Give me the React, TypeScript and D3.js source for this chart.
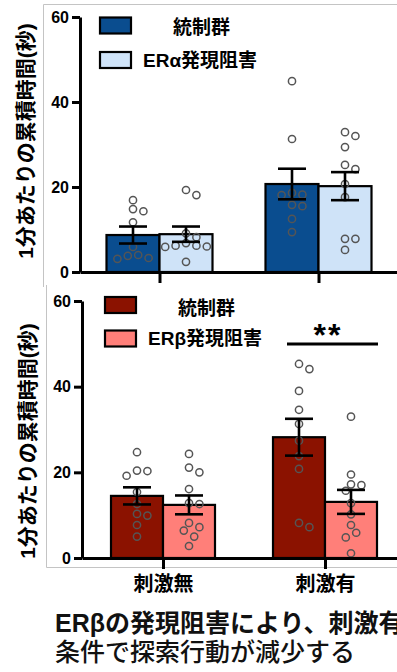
import * as d3 from 'd3';
import React, { useRef, useEffect } from 'react';

// categories and groups
const stimLabels = ["刺激無", "刺激有"];
const groupKeys = ["ctrl", "kd"];

// ERα panel (top) - bar means and SEM
const alphaMeans = [[8.7, 8.9], [20.7, 20.2]];
const alphaSem = [[2.0, 1.8], [3.6, 3.3]];
const alphaPoints = [
  [
    [14.8, 14.3, 16.9, 11.7, 5.9, 3.8, 3.1, 3.3, 4.0],
    [19.3, 18.1, 8.2, 9.1, 5.9, 6.2, 6.0, 6.2, 6.8, 2.4],
  ],
  [
    [44.9, 31.3, 18.1, 18.2, 18.6, 15.5, 15.8, 12.5, 9.4],
    [32.9, 32.0, 29.4, 25.2, 24.2, 20.7, 17.6, 7.8, 7.8, 5.2],
  ],
];

// ERβ panel (bottom)
const betaMeans = [[14.5, 12.4], [28.2, 13.1]];
const betaSem = [[2.0, 2.2], [4.3, 2.8]];
const betaPoints = [
  [
    [24.7, 20.3, 19.2, 20.4, 15.4, 12.6, 10.3, 9.9, 7.7, 5.0],
    [24.3, 21.1, 20.0, 16.1, 12.6, 12.8, 7.2, 8.2, 6.4, 5.0, 2.8],
  ],
  [
    [45.3, 44.1, 39.0, 34.6, 31.3, 27.4, 23.8, 20.8, 7.2, 8.2],
    [33.0, 19.5, 17.0, 17.2, 15.7, 12.8, 10.2, 7.7, 5.9, 4.8, 1.1],
  ],
];

const yTicks = [0, 20, 40, 60];
const yLabel = "1分あたりの累積時間(秒)";
const captionLines = ["ERβの発現阻害により、刺激有", "条件で探索行動が減少する"];

const latin = "'Liberation Sans', Arial, 'Noto Sans CJK JP', sans-serif";
const cjk = "'Liberation Sans', 'Noto Sans CJK JP', sans-serif";

// simple swarm so circles don't sit on top of each other
function swarm(values: number[], y: (v: number) => number, minDist: number, step: number) {
  const order = values.map((v, i) => i).sort((a, b) => values[b] - values[a]);
  const placed: { x: number, y: number }[] = [];
  const out: { v: number, dx: number }[] = [];
  order.forEach((i) => {
    const py = y(values[i]);
    let k = 0;
    let dx = 0;
    while (true) {
      const m = Math.ceil(k / 2) * (k % 2 === 1 ? 1 : -1);
      dx = m * step;
      const clash = placed.some((p) => Math.hypot(p.x - dx, p.y - py) < minDist);
      if (!clash) break;
      k++;
    }
    placed.push({ x: dx, y: py });
    out.push({ v: values[i], dx });
  });
  return out;
}

function drawPanel(root: any, opt: any) {
  const g = root.append("g");

  // light grey frame
  opt.frame.forEach((f: number[]) => {
    g.append("line")
      .attr("x1", f[0]).attr("y1", f[1]).attr("x2", f[2]).attr("y2", f[3])
      .attr("stroke", "#c4c4c4").attr("stroke-width", 1);
  });

  const yScale = d3.scaleLinear().domain([0, 60]).range([opt.y0, opt.y60]);
  const xScale = d3.scalePoint().domain(stimLabels).range([opt.axisX, opt.xEnd]).padding(0.5);
  const inner = d3.scaleBand().domain(groupKeys).range([-opt.barW, opt.barW]).padding(0);

  // bars
  stimLabels.forEach((s, si) => {
    groupKeys.forEach((k, ki) => {
      const x0 = (xScale(s) || 0) + (inner(k) || 0);
      g.append("rect")
        .attr("x", x0)
        .attr("y", yScale(opt.means[si][ki]))
        .attr("width", inner.bandwidth())
        .attr("height", opt.y0 - yScale(opt.means[si][ki]))
        .attr("fill", opt.colors[ki])
        .attr("stroke", "#000")
        .attr("stroke-width", 2.2);
    });
  });

  // points
  stimLabels.forEach((s, si) => {
    groupKeys.forEach((k, ki) => {
      const cx = (xScale(s) || 0) + (inner(k) || 0) + inner.bandwidth() / 2;
      const pts = swarm(opt.points[si][ki], yScale, 8.2, 5.2);
      g.selectAll(null)
        .data(pts)
        .enter()
        .append("circle")
        .attr("cx", (d: any) => cx + d.dx)
        .attr("cy", (d: any) => yScale(d.v))
        .attr("r", 3.6)
        .attr("fill", "none")
        .attr("stroke", "#555")
        .attr("stroke-width", 1.5);
    });
  });

  // error bars
  stimLabels.forEach((s, si) => {
    groupKeys.forEach((k, ki) => {
      const cx = (xScale(s) || 0) + (inner(k) || 0) + inner.bandwidth() / 2;
      const m = opt.means[si][ki];
      const e = opt.sem[si][ki];
      const hi = yScale(m + e);
      const lo = yScale(m - e);
      const eb = g.append("g").attr("stroke", "#000").attr("stroke-width", 2.6);
      eb.append("line").attr("x1", cx).attr("x2", cx).attr("y1", hi).attr("y2", lo);
      eb.append("line").attr("x1", cx - 14).attr("x2", cx + 14).attr("y1", hi).attr("y2", hi);
      eb.append("line").attr("x1", cx - 14).attr("x2", cx + 14).attr("y1", lo).attr("y2", lo);
    });
  });

  // axes
  const yAxis = g.append("g")
    .attr("transform", "translate(" + opt.axisX + ",0)")
    .call(d3.axisLeft(yScale).tickValues(yTicks).tickSize(8).tickSizeOuter(0).tickPadding(3));
  yAxis.selectAll("path, line").attr("stroke", "#000").attr("stroke-width", 3);
  yAxis.selectAll("text")
    .attr("fill", "#000")
    .style("font-family", latin)
    .style("font-size", "16px")
    .style("font-weight", "bold");

  const xAxis = g.append("g")
    .attr("transform", "translate(0," + opt.y0 + ")")
    .call(d3.axisBottom(xScale).tickSize(11).tickSizeOuter(0).tickPadding(8)
      .tickFormat((d: any) => (opt.showCats ? d : "")));
  xAxis.selectAll("path, line").attr("stroke", "#000").attr("stroke-width", 3);
  xAxis.selectAll("text")
    .attr("fill", "#000")
    .style("font-family", cjk)
    .style("font-size", "20px")
    .style("font-weight", "bold");

  // y label
  g.append("text")
    .attr("transform", "translate(" + opt.labelX + "," + opt.labelY + ") rotate(-90)")
    .attr("text-anchor", "middle")
    .attr("dominant-baseline", "central")
    .style("font-family", cjk)
    .style("font-size", "21px")
    .style("font-weight", "bold")
    .text(yLabel);

  // legend
  opt.legend.forEach((l: any, i: number) => {
    g.append("rect")
      .attr("x", l.rx).attr("y", l.ry).attr("width", 31).attr("height", 16)
      .attr("fill", opt.colors[i]).attr("stroke", "#000").attr("stroke-width", 2.2);
    g.append("text")
      .attr("x", l.tx).attr("y", l.ty)
      .attr("dominant-baseline", "central")
      .style("font-family", cjk)
      .style("font-size", "19px")
      .style("font-weight", "bold")
      .text(l.text);
  });

  return { xScale, yScale, g };
}

function App(): any {
  const ref = useRef(null);

  useEffect(() => {
    const svg = d3.select(ref.current);
    svg.selectAll("*").remove();
    svg.append("rect").attr("width", 397).attr("height", 672).attr("fill", "#fff");

    drawPanel(svg, {
      frame: [[43.5, 4.5, 397, 4.5], [43.5, 4.5, 43.5, 287]],
      axisX: 80, xEnd: 398, y0: 272, y60: 17, barW: 53,
      means: alphaMeans, sem: alphaSem, points: alphaPoints,
      colors: ["#0a4d8f", "#cfe3f8"],
      showCats: false, labelX: 25, labelY: 141,
      legend: [
        { rx: 100, ry: 17.5, tx: 173, ty: 27, text: "統制群" },
        { rx: 100, ry: 52, tx: 143, ty: 60, text: "ERα発現阻害" },
      ],
    });

    const bottom = drawPanel(svg, {
      frame: [[46.5, 285, 46.5, 567.5], [46.5, 567.5, 397, 567.5]],
      axisX: 82, xEnd: 406, y0: 558, y60: 301, barW: 52,
      means: betaMeans, sem: betaSem, points: betaPoints,
      colors: ["#8b1200", "#ff7f79"],
      showCats: true, labelX: 27, labelY: 441,
      legend: [
        { rx: 105, ry: 297, tx: 178, ty: 308, text: "統制群" },
        { rx: 105, ry: 330.5, tx: 148, ty: 338, text: "ERβ発現阻害" },
      ],
    });

    // significance bar over 刺激有
    const cx = bottom.xScale(stimLabels[1]) || 0;
    bottom.g.append("line")
      .attr("x1", cx - 38).attr("x2", cx + 53)
      .attr("y1", 344).attr("y2", 344)
      .attr("stroke", "#000").attr("stroke-width", 3);
    bottom.g.append("text")
      .attr("x", cx + 3).attr("y", 346)
      .attr("text-anchor", "middle")
      .style("font-family", latin)
      .style("font-size", "32px")
      .style("font-weight", "bold")
      .style("letter-spacing", "2px")
      .text("**");

    // caption
    captionLines.forEach((t, i) => {
      svg.append("text")
        .attr("x", 55).attr("y", 632 + i * 29)
        .style("font-family", cjk)
        .style("font-size", "25px")
        .style("font-weight", i === 0 ? "bold" : "500")
        .attr("fill", "#111")
        .text(t);
    });
  }, []);

  return (
    <svg
      ref={ref}
      width={397}
      height={672}
      style={{ position: "absolute", left: 0, top: 0 }}
    />
  );
}

export default App;
